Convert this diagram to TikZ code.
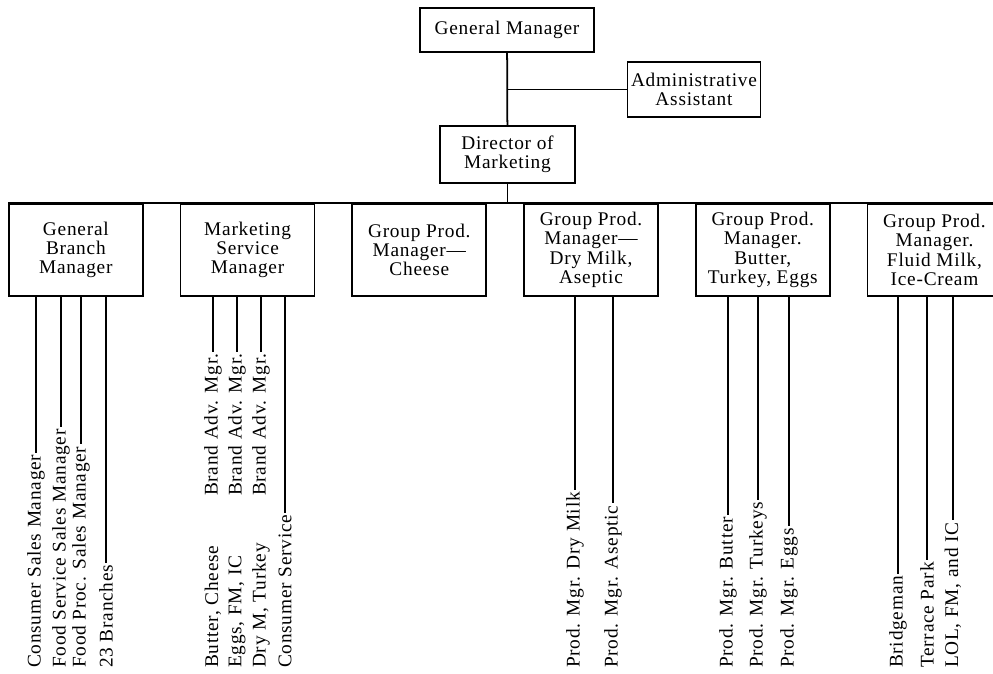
\documentclass[tikz,border=0pt]{standalone}
\usepackage{fontspec}
\setmainfont{Liberation Serif}[LetterSpace=4]
\usetikzlibrary{positioning}

\begin{document}
\begin{tikzpicture}[
    x=0.02cm, y=-0.02cm,
    node distance=0.72cm,
    box/.style={rectangle, draw, line width=1pt, align=center, inner sep=2pt,
                font=\fontsize{11}{11}\selectfont},
    unit/.style={box, minimum width=2.68cm, minimum height=1.84cm, anchor=north west},
    leaf/.style={rotate=90, anchor=west, inner sep=1pt,
                 font=\fontsize{11}{11}\selectfont},
    link/.style={line width=1pt},
    twig/.style={line width=0.7pt}
]
\useasboundingbox (0,0) rectangle (993,673);

% top of the chart
\node[box, minimum width=3.48cm, minimum height=0.88cm] (gm) at (507,30) {General Manager};
\node[box, minimum width=2.64cm, minimum height=1.1cm] (aa) at (694,89.5) {Administrative\\Assistant};
\node[box, minimum width=2.7cm, minimum height=1.14cm] (dm) at (507.5,154.5) {Director of\\Marketing};

\coordinate (bus) at (8,203);
\coordinate (busend) at (993,203);

% row under the director
\node[unit] (gbm) at (bus) {General\\Branch\\Manager};
\node[unit, right=of gbm] (msm) {Marketing\\Service\\Manager};
\node[unit, right=of msm] (gpc) {Group Prod.\\Manager---\\Cheese};
\node[unit, right=of gpc] (gpd) {Group Prod.\\Manager---\\Dry Milk,\\Aseptic};
\node[unit, right=of gpd] (gpb) {Group Prod.\\Manager.\\Butter,\\Turkey, Eggs};
\node[unit, right=of gpb] (gpf) {Group Prod.\\Manager.\\Fluid Milk,\\Ice-Cream};

\draw[link] (gm) -- (dm);
\draw[link] (gm.south |- aa.west) -- (aa.west);
\draw[link] (dm.south) -- (dm.south |- bus);
\draw[link] (bus) -- (busend);

% names under each manager
\node[leaf] (csm) at (36,670) {Consumer Sales Manager};
\node[leaf] (fsm) at (61,670) {Food Service Sales Manager};
\node[leaf] (fpm) at (81,670) {Food Proc. Sales Manager};
\node[leaf] (brn) at (106,670) {23 Branches};

\node[leaf] (ba1) at (213,498) {Brand Adv. Mgr.};
\node[leaf] (ba2) at (237,498) {Brand Adv. Mgr.};
\node[leaf] (ba3) at (261,498) {Brand Adv. Mgr.};
\node[leaf] (bc) at (213,670) {Butter, Cheese};
\node[leaf] (ef) at (237,670) {Eggs, FM, IC};
\node[leaf] (dt) at (261,670) {Dry M, Turkey};
\node[leaf] (cs) at (285,670) {Consumer Service};

\node[leaf] (pdm) at (575,670) {Prod. Mgr. Dry Milk};
\node[leaf] (pas) at (613,670) {Prod. Mgr. Aseptic};

\node[leaf] (pbu) at (728,670) {Prod. Mgr. Butter};
\node[leaf] (ptu) at (758,670) {Prod. Mgr. Turkeys};
\node[leaf] (peg) at (789,670) {Prod. Mgr. Eggs};

\node[leaf] (brg) at (898,670) {Bridgeman};
\node[leaf] (tpk) at (927,670) {Terrace Park};
\node[leaf] (lol) at (953,670) {LOL, FM, and IC};

\foreach \m/\l in {gbm/csm, gbm/fsm, gbm/fpm, gbm/brn,
                   msm/ba1, msm/ba2, msm/ba3, msm/cs,
                   gpd/pdm, gpd/pas,
                   gpb/pbu, gpb/ptu, gpb/peg,
                   gpf/brg, gpf/tpk, gpf/lol}
  \draw[twig] (\l.east |- \m.south) -- (\l.east);

\end{tikzpicture}
\end{document}
